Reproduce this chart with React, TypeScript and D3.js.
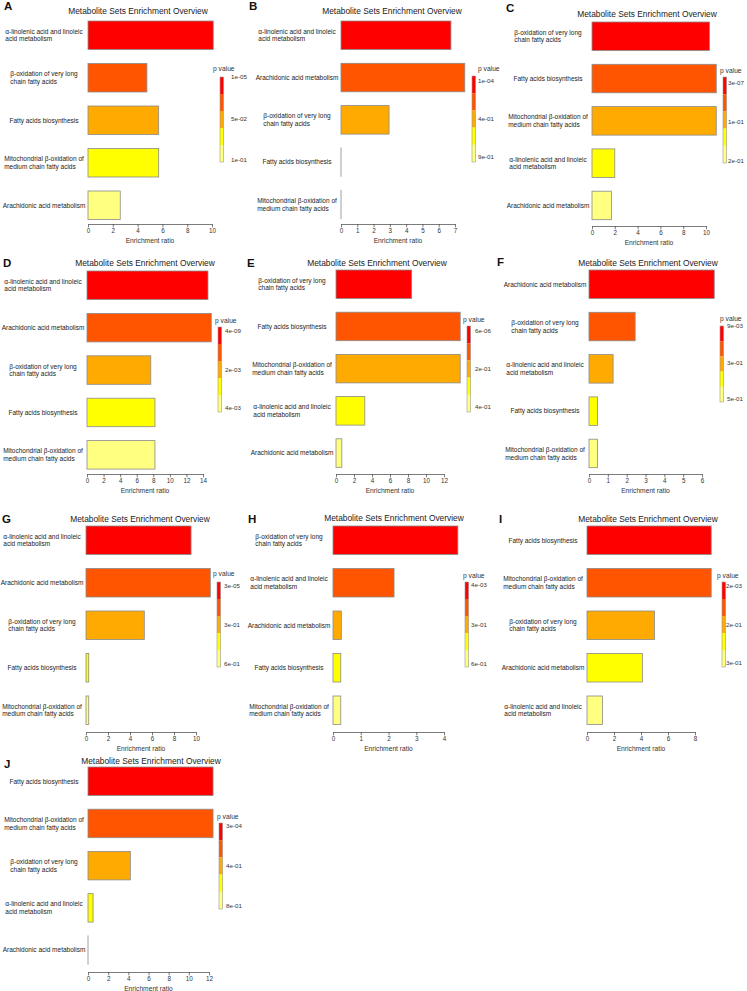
import React, { useEffect, useRef } from 'react'
import * as d3 from 'd3'

// metabolite set names (two-line ones keep their line break)
const ALA = 'α-linolenic acid and linoleic\nacid metabolism'
const BOX = 'β-oxidation of very long\nchain fatty acids'
const FAB = 'Fatty acids biosynthesis'
const MITO = 'Mitochondrial β-oxidation of\nmedium chain fatty acids'
const ARA = 'Arachidonic acid metabolism'

const letters = ['A', 'B', 'C', 'D', 'E', 'F', 'G', 'H', 'I', 'J']

const categories = [
	[ALA, BOX, FAB, MITO, ARA],
	[ALA, ARA, BOX, FAB, MITO],
	[BOX, FAB, MITO, ALA, ARA],
	[ALA, ARA, BOX, FAB, MITO],
	[BOX, FAB, MITO, ALA, ARA],
	[ARA, BOX, ALA, FAB, MITO],
	[ALA, ARA, BOX, FAB, MITO],
	[BOX, ALA, ARA, FAB, MITO],
	[FAB, MITO, BOX, ARA, ALA],
	[FAB, MITO, BOX, ALA, ARA],
]

const ratios = [
	[10.1, 4.75, 5.7, 5.7, 2.6],
	[6.75, 7.6, 2.95, 0, 0],
	[10.3, 10.9, 10.9, 2.0, 1.7],
	[14.6, 15.0, 7.7, 8.2, 8.2],
	[8.4, 13.8, 13.8, 3.2, 0.65],
	[6.65, 2.45, 1.28, 0.45, 0.45],
	[9.55, 11.3, 5.3, 0.25, 0.25],
	[4.5, 2.2, 0.3, 0.28, 0.28],
	[9.2, 9.2, 5.0, 4.1, 1.15],
	[12.4, 12.4, 4.2, 0.5, 0],
]

const pLabels = [
	['1e-05', '5e-02', '1e-01'],
	['1e-04', '4e-01', '9e-01'],
	['3e-07', '1e-01', '2e-01'],
	['4e-09', '2e-03', '4e-03'],
	['6e-06', '2e-01', '4e-01'],
	['9e-03', '3e-01', '5e-01'],
	['3e-05', '3e-01', '6e-01'],
	['4e-03', '3e-01', '6e-01'],
	['2e-03', '2e-01', '3e-01'],
	['3e-04', '4e-01', '8e-01'],
]

const tickMax = [10, 7, 10, 14, 12, 6, 10, 4, 8, 12]
const tickStep = [2, 1, 2, 2, 2, 1, 2, 1, 2, 2]

// R heat.colors(5)
const heatColors = ['#FF0000', '#FF5500', '#FFAA00', '#FFFF00', '#FFFF80']

// where each panel sits (relative to its own origin ox, oy)
const layout = [
	{ ox: 0, oy: 0, lx: 4, ly: 10, tx: 138, ty: 11, x0: 88, x1: 212, top: 21, step: 42.5, axisY: 224, px: 213, py: 69, cbX: 220, cbTop: 77, cbBot: 162, labX: 231, labTop: 77, labBot: 160 },
	{ ox: 245, oy: 0, lx: 4, ly: 10, tx: 147, ty: 11, x0: 96, x1: 210, top: 21, step: 42.3, axisY: 224, px: 233, py: 69, cbX: 227, cbTop: 76, cbBot: 162, labX: 233, labTop: 81, labBot: 157 },
	{ ox: 495, oy: 0, lx: 11, ly: 12, tx: 152, ty: 14, x0: 97, x1: 211, top: 22, step: 42.3, axisY: 226, px: 225, py: 71, cbX: 228, cbTop: 77, cbBot: 163, labX: 233, labTop: 83, labBot: 161 },
	{ ox: 0, oy: 250, lx: 3, ly: 17, tx: 145, ty: 13, x0: 87, x1: 203, top: 21, step: 42.4, axisY: 224, px: 215, py: 71, cbX: 218, cbTop: 77, cbBot: 162, labX: 225, labTop: 81, labBot: 158 },
	{ ox: 245, oy: 250, lx: 2, ly: 17, tx: 132, ty: 13, x0: 91, x1: 199, top: 20, step: 42.2, axisY: 224, px: 218, py: 70, cbX: 222, cbTop: 76, cbBot: 162, labX: 230, labTop: 81, labBot: 157 },
	{ ox: 495, oy: 250, lx: 2, ly: 16, tx: 153, ty: 13, x0: 94, x1: 207, top: 20, step: 42.3, axisY: 224, px: 225, py: 69, cbX: 225, cbTop: 76, cbBot: 152, labX: 232, labTop: 76, labBot: 149 },
	{ ox: 0, oy: 500, lx: 2, ly: 23, tx: 140, ty: 19, x0: 86, x1: 196, top: 26, step: 42.5, axisY: 232, px: 213, py: 74, cbX: 217, cbTop: 82, cbBot: 167, labX: 224, labTop: 86, labBot: 164 },
	{ ox: 245, oy: 500, lx: 3, ly: 23, tx: 149, ty: 18, x0: 88, x1: 199, top: 26, step: 42.5, axisY: 232, px: 218, py: 76, cbX: 220, cbTop: 82, cbBot: 167, labX: 226, labTop: 85, labBot: 164 },
	{ ox: 495, oy: 500, lx: 4, ly: 23, tx: 153, ty: 19, x0: 92, x1: 200, top: 26, step: 42.5, axisY: 232, px: 222, py: 76, cbX: 227, cbTop: 82, cbBot: 167, labX: 231, labTop: 86, labBot: 163 },
	{ ox: 0, oy: 750, lx: 4, ly: 18, tx: 151, ty: 11, x0: 88, x1: 209, top: 17, step: 42.2, axisY: 222, px: 217, py: 67, cbX: 219, cbTop: 73, cbBot: 159, labX: 226, labTop: 76, labBot: 156 },
]

const FONT = 'Liberation Sans, Arial, Helvetica, sans-serif'
const BAR_H = 28.5

const App = () => {
	const ref = useRef<SVGSVGElement>(null)

	useEffect(() => {
		const svg = d3.select(ref.current)
		svg.selectAll('*').remove()
		svg.append('rect').attr('width', 747).attr('height', 991).attr('fill', 'white')

		letters.forEach((letter, i) => {
			const L = layout[i]
			const g = svg.append('g').attr('transform', `translate(${L.ox},${L.oy})`)

			g.append('text')
				.text(letter)
				.attr('x', L.lx)
				.attr('y', L.ly)
				.attr('font-size', 11.5)
				.attr('font-weight', 'bold')
				.attr('fill', '#111')

			g.append('text')
				.text('Metabolite Sets Enrichment Overview')
				.attr('x', L.tx)
				.attr('y', L.ty + 3)
				.attr('text-anchor', 'middle')
				.attr('font-size', 8.4)
				.attr('fill', '#222')

			const x = d3.scaleLinear().domain([0, tickMax[i]]).range([L.x0, L.x1])
			const gap = L.step - BAR_H
			const y = d3
				.scaleBand()
				.domain(categories[i])
				.range([L.top - gap / 2, L.top - gap / 2 + 5 * L.step])
				.paddingInner(gap / L.step)
				.paddingOuter(gap / L.step / 2)

			// bars
			g.selectAll('.bar')
				.data(ratios[i])
				.enter()
				.append('rect')
				.attr('class', 'bar')
				.attr('x', x(0))
				.attr('y', (d, j) => y(categories[i][j]))
				.attr('width', d => Math.max(x(d) - x(0), 0.01))
				.attr('height', y.bandwidth())
				.attr('fill', (d, j) => heatColors[j])
				.attr('stroke', '#8a8a8a')
				.attr('stroke-width', 0.8)

			// set names, left-aligned lines in a block centred left of the bars
			const cx = L.x0 - 44
			categories[i].forEach(cat => {
				const lines = cat.split('\n')
				const mid = y(cat) + y.bandwidth() / 2
				const t = g
					.append('text')
					.attr('font-size', 6.5)
					.attr('fill', '#222')
				const spans = lines.map((line, k) =>
					t
						.append('tspan')
						.text(line)
						.attr('y', mid + 2.3 + (k - (lines.length - 1) / 2) * 7.6)
				)
				const maxW = d3.max(spans, s => (s.node() as SVGTSpanElement).getComputedTextLength()) || 0
				spans.forEach(s => s.attr('x', cx - maxW / 2))
			})

			// x axis
			const axis = g
				.append('g')
				.attr('transform', `translate(0,${L.axisY})`)
				.call(
					d3
						.axisBottom(x)
						.tickValues(d3.range(0, tickMax[i] + 0.001, tickStep[i]))
						.tickFormat(d3.format('d'))
						.tickSize(3.3)
						.tickSizeOuter(0)
						.tickPadding(1.2)
				)
			axis.attr('font-family', FONT).attr('font-size', 6.3)
			axis.selectAll('path, line').attr('stroke', '#444').attr('stroke-width', 0.7)
			axis.selectAll('text').attr('fill', '#333')

			g.append('text')
				.text('Enrichment ratio')
				.attr('x', (L.x0 + L.x1) / 2)
				.attr('y', L.axisY + 19)
				.attr('text-anchor', 'middle')
				.attr('font-size', 6.7)
				.attr('fill', '#333')

			// p value colour key
			g.append('text')
				.text('p value')
				.attr('x', L.px)
				.attr('y', L.py + 2.3)
				.attr('font-size', 6.7)
				.attr('fill', '#333')

			const cb = d3
				.scaleBand()
				.domain(d3.range(heatColors.length).map(String))
				.range([L.cbTop, L.cbBot])
			g.selectAll('.key')
				.data(heatColors)
				.enter()
				.append('rect')
				.attr('class', 'key')
				.attr('x', L.cbX)
				.attr('y', (d, j) => cb(String(j)))
				.attr('width', 3.6)
				.attr('height', cb.bandwidth())
				.attr('fill', d => d)
			g.append('rect')
				.attr('x', L.cbX)
				.attr('y', L.cbTop)
				.attr('width', 3.6)
				.attr('height', L.cbBot - L.cbTop)
				.attr('fill', 'none')
				.attr('stroke', '#9a9a9a')
				.attr('stroke-width', 0.6)

			const ky = d3.scaleLinear().domain([0, 2]).range([L.labTop, L.labBot])
			g.selectAll('.klab')
				.data(pLabels[i])
				.enter()
				.append('text')
				.attr('class', 'klab')
				.text(d => d)
				.attr('x', L.labX)
				.attr('y', (d, j) => ky(j) + 2.1)
				.attr('font-size', 6.2)
				.attr('fill', '#333')
		})
	}, [])

	return (
		<svg
			ref={ref}
			width={747}
			height={991}
			style={{ position: 'absolute', left: 0, top: 0, fontFamily: FONT }}
		></svg>
	)
}

export default App
